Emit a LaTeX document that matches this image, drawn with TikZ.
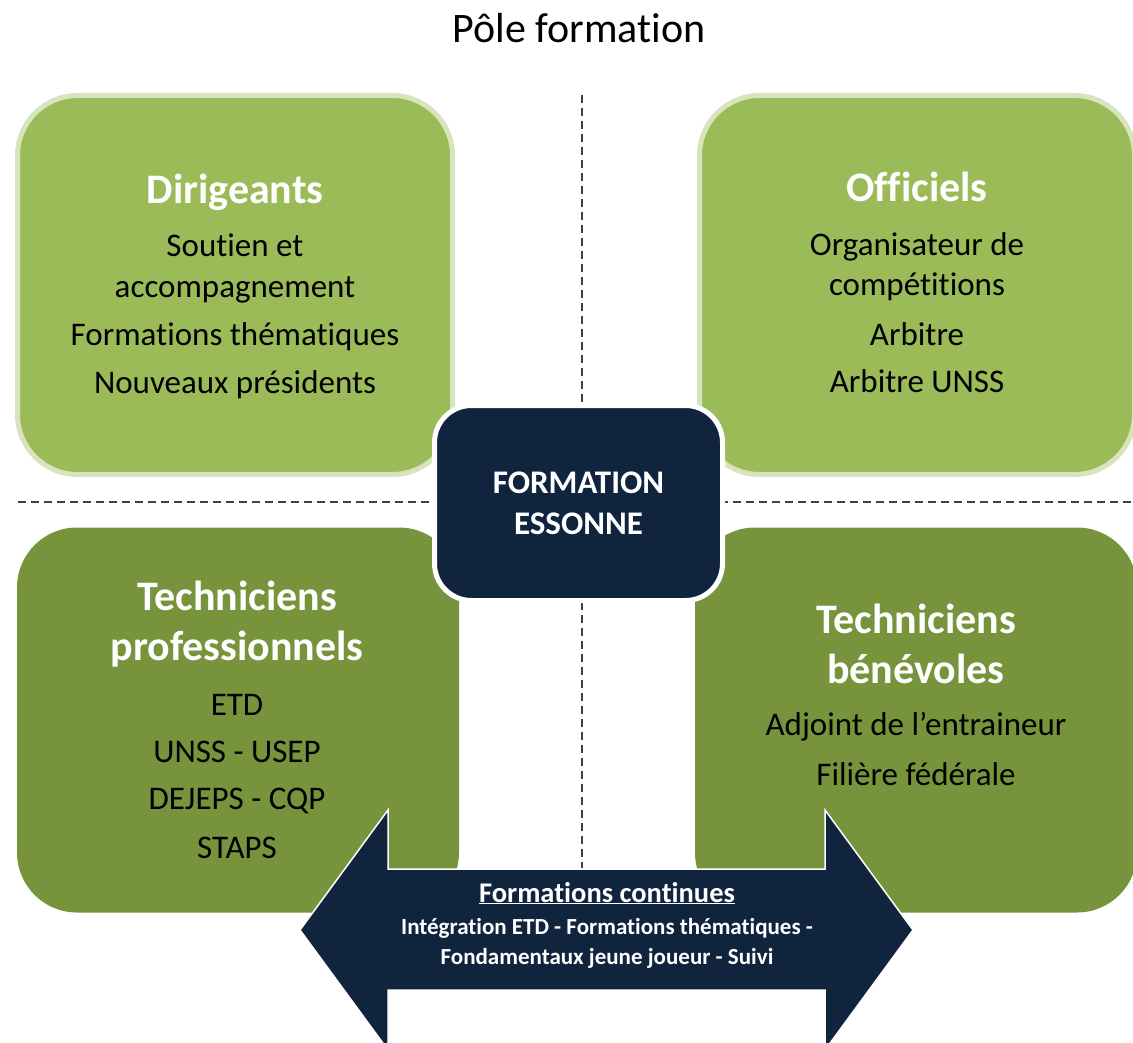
\documentclass[tikz,border=0pt]{standalone}
\usepackage{fontspec}
\setmainfont{Carlito}[Ligatures=NoCommon]
\usetikzlibrary{positioning}
\definecolor{leafgreen}{HTML}{9BBB59}
\definecolor{leafedge}{HTML}{D7E4BD}
\definecolor{olivegreen}{HTML}{77933C}
\definecolor{navy}{HTML}{10243E}
\definecolor{axisgray}{HTML}{404040}
\tikzset{
  topbox/.style={fill=leafgreen, draw=leafedge, line width=5pt, rounded corners=60pt,
    minimum width=435pt, minimum height=379pt},
  lowbox/.style={fill=olivegreen, rounded corners=60pt,
    minimum width=442pt, minimum height=385pt},
  hubbox/.style={fill=navy, draw=white, line width=5pt, rounded corners=37pt,
    minimum width=288pt, minimum height=195pt},
  headtext/.style={anchor=base, inner sep=0pt, text=white, font=\fontsize{42}{50}\selectfont\bfseries},
  itemtext/.style={anchor=base, inner sep=0pt, text=black, font=\fontsize{33}{40}\selectfont},
  hubtext/.style={anchor=base, inner sep=0pt, text=white, font=\fontsize{33}{40}\selectfont\bfseries},
  arrowtext/.style={anchor=base, inner sep=0pt, text=white, font=\fontsize{23}{28}\selectfont\bfseries},
  axis/.style={axisgray, line width=2pt, dash pattern=on 8pt off 5pt}
}
\begin{document}
\begin{tikzpicture}[x=1pt,y=-1pt]
	\useasboundingbox (0,0) rectangle (1133,1043);
	% dashed cross
	\coordinate (vtop) at (582,95);
	\coordinate (vbot) at (582,868);
	\coordinate (hleft) at (18,502);
	\coordinate (hright) at (1133,502);
	\draw[axis] (vtop) -- (vbot);
	\draw[axis] (hleft) -- (hright);
	% title
	\node[anchor=base, inner sep=0pt, font=\fontsize{42}{50}\selectfont] (title) at (579,43) {Pôle formation};
	% the four quarters
	\node[topbox] (dirigeants) at (235,285) {};
	\node[topbox] (officiels) at (917,285) {};
	\node[lowbox] (pros) at (238,720) {};
	\node[lowbox] (benevoles) at (916,720) {};
	% Dirigeants
	\node[headtext] (dirHead) at (235,204) {Dirigeants};
	\foreach \y/\t [count=\i] in {257/Soutien et, 298/accompagnement, 345/Formations thématiques, 393/Nouveaux présidents}
		\node[itemtext] (dirItem\i) at (235,\y) {\t};
	% Officiels
	\node[headtext] (offHead) at (917,202) {Officiels};
	\foreach \y/\t [count=\i] in {255/Organisateur de, 295/compétitions, 345/Arbitre, 392/Arbitre UNSS}
		\node[itemtext] (offItem\i) at (917,\y) {\t};
	% Techniciens professionnels
	\node[headtext] (proHead) at (237,610) {Techniciens};
	\node[headtext] (proHeadb) at (237,660) {professionnels};
	\foreach \y/\t [count=\i] in {715/ETD, 762/UNSS - USEP, 809/DEJEPS - CQP, 858/STAPS}
		\node[itemtext] (proItem\i) at (237,\y) {\t};
	% Techniciens benevoles
	\node[headtext] (benHead) at (916,633) {Techniciens};
	\node[headtext] (benHeadb) at (916,683) {bénévoles};
	\foreach \y/\t [count=\i] in {735/Adjoint de l’entraineur, 785/Filière fédérale}
		\node[itemtext] (benItem\i) at (916,\y) {\t};
	% centre
	\node[hubbox] (hub) at (578.5,503) {};
	\node[hubtext] (hubA) at (578.5,493) {FORMATION};
	\node[hubtext] (hubB) at (578.5,534) {ESSONNE};
	% double arrow
	\fill[navy, draw=white, line width=1.5pt] (300,930) -- (388,810) -- (388,869) -- (825,869)
		-- (825,810) -- (913,930) -- (825,1050) -- (825,990) -- (388,990) -- (388,1050) -- cycle;
	\node[arrowtext, font=\fontsize{28.5}{34}\selectfont\bfseries] (contHead) at (607,902) {\underline{Formations continues}};
	\node[arrowtext] (contA) at (607,934) {Intégration ETD - Formations thématiques -};
	\node[arrowtext] (contB) at (607,964) {Fondamentaux jeune joueur - Suivi};
\end{tikzpicture}
\end{document}
